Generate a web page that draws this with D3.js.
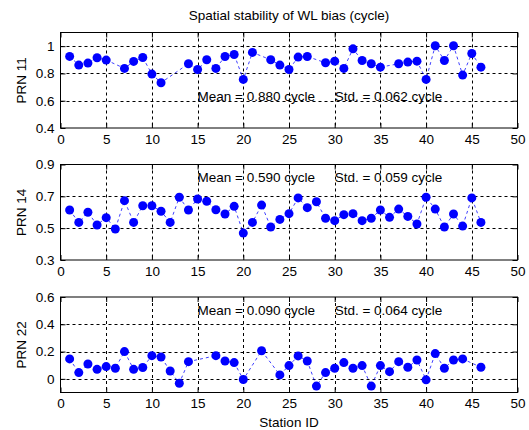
<!DOCTYPE html>
<html>
<head>
<meta charset="utf-8">
<script src="https://cdn.jsdelivr.net/npm/d3@7"></script>
<style>
  body { margin: 0; background: #fff; }
  svg text { font-family: "Liberation Sans", Arial, Helvetica, sans-serif; font-size: 13.5px; fill: #000; }
</style>
</head>
<body>
<div id="chart"></div>
<script>
// station ids and WL bias (cycle) per satellite
const stationsPrn11 = [1, 2, 3, 4, 5, 7, 8, 9, 10, 11, 14, 15, 16, 17, 18, 19, 20, 21, 23, 24,
  25, 26, 27, 29, 30, 31, 32, 33, 34, 35, 37, 38, 39, 40, 41, 42, 43, 44, 45, 46];
const biasPrn11 = [0.925, 0.861, 0.876, 0.915, 0.898, 0.837, 0.888, 0.917, 0.795, 0.732,
  0.871, 0.829, 0.900, 0.837, 0.924, 0.939, 0.756, 0.954, 0.900, 0.861,
  0.829, 0.920, 0.924, 0.878, 0.890, 0.837, 0.980, 0.895, 0.871, 0.846,
  0.871, 0.883, 0.890, 0.756, 1.003, 0.895, 1.003, 0.788, 0.946, 0.846];

const stationsPrn14 = d3.range(1, 47);
const biasPrn14 = [0.614, 0.536, 0.600, 0.520, 0.566, 0.495, 0.673, 0.536, 0.641, 0.641,
  0.606, 0.536, 0.694, 0.614, 0.683, 0.669, 0.616, 0.589, 0.637, 0.469,
  0.536, 0.645, 0.507, 0.555, 0.591, 0.690, 0.629, 0.666, 0.562, 0.547,
  0.585, 0.591, 0.547, 0.562, 0.614, 0.568, 0.620, 0.574, 0.526, 0.694,
  0.620, 0.507, 0.589, 0.513, 0.690, 0.536];

const stationsPrn22 = [1, 2, 3, 4, 5, 6, 7, 8, 9, 10, 11, 12, 13, 14, 17, 18, 19, 20, 22, 24,
  25, 26, 27, 28, 29, 30, 31, 32, 33, 34, 35, 36, 37, 38, 39, 40, 41, 42, 43, 44, 46];
const biasPrn22 = [0.146, 0.046, 0.109, 0.070, 0.090, 0.078, 0.200, 0.070, 0.083, 0.170,
  0.160, 0.058, -0.032, 0.126, 0.170, 0.131, 0.119, -0.005, 0.206, 0.029,
  0.097, 0.168, 0.131, -0.053, 0.046, 0.078, 0.119, 0.078, 0.097, -0.053,
  0.097, 0.053, 0.126, 0.085, 0.138, -0.007, 0.185, 0.078, 0.138, 0.146, 0.085];

const panelLabels = ["PRN 11", "PRN 14", "PRN 22"];
const meanLabels = ["Mean = 0.880 cycle", "Mean = 0.590 cycle", "Mean = 0.090 cycle"];
const stdLabels = ["Std. = 0.062 cycle", "Std. = 0.059 cycle", "Std. = 0.064 cycle"];
const yDomains = [[0.4, 1.1], [0.3, 0.9], [-0.1, 0.6]];
const yTicks = [[0.4, 0.6, 0.8, 1], [0.3, 0.5, 0.7, 0.9], [0, 0.2, 0.4, 0.6]];
const textY = [0.63, 0.82, 0.5];
const xTicks = d3.range(0, 51, 5);

const panels = [
  { x: stationsPrn11, y: biasPrn11 },
  { x: stationsPrn14, y: biasPrn14 },
  { x: stationsPrn22, y: biasPrn22 }
];

const WIDTH = 529;
const HEIGHT = 430;
const left = 60.5;
const right = 517.5;
const tops = [32.5, 164.5, 297];
const plotH = 95.5;

const svg = d3.select("#chart")
  .append("svg")
  .attr("width", WIDTH)
  .attr("height", HEIGHT)
  .style("background-color", "white");

const x = d3.scaleLinear().domain([0, 50]).range([left, right]);

//title
svg.append("text")
  .attr("x", (left + right) / 2)
  .attr("y", 20)
  .attr("text-anchor", "middle")
  .text("Spatial stability of WL bias (cycle)");

panels.forEach((p, k) => {
  const top = tops[k];
  const bottom = top + plotH;
  const y = d3.scaleLinear().domain(yDomains[k]).range([bottom, top]);
  const g = svg.append("g");

  //grid
  g.selectAll(".vgrid")
    .data(xTicks.filter((t) => t > 0 && t < 50))
    .enter()
    .append("line")
    .attr("x1", (d) => Math.round(x(d)) + 0.5)
    .attr("x2", (d) => Math.round(x(d)) + 0.5)
    .attr("y1", top)
    .attr("y2", bottom)
    .attr("stroke", "#000")
    .attr("stroke-dasharray", "3,3");

  g.selectAll(".hgrid")
    .data(yTicks[k].filter((t) => t > yDomains[k][0] && t < yDomains[k][1]))
    .enter()
    .append("line")
    .attr("x1", left)
    .attr("x2", right)
    .attr("y1", (d) => Math.round(y(d)) + 0.5)
    .attr("y2", (d) => Math.round(y(d)) + 0.5)
    .attr("stroke", "#000")
    .attr("stroke-dasharray", "3,3");

  //axes with inward ticks
  g.append("g")
    .attr("transform", "translate(0," + bottom + ")")
    .call(d3.axisBottom(x).tickValues(xTicks).tickSize(-5).tickPadding(6).tickFormat(d3.format("d")));
  g.append("g")
    .attr("transform", "translate(0," + top + ")")
    .call(d3.axisTop(x).tickValues(xTicks).tickSize(-5).tickFormat(""));
  g.append("g")
    .attr("transform", "translate(" + left + ",0)")
    .call(d3.axisLeft(y).tickValues(yTicks[k]).tickSize(-5).tickPadding(6).tickFormat((d) => d3.format("")(+d.toFixed(1))));
  g.append("g")
    .attr("transform", "translate(" + right + ",0)")
    .call(d3.axisRight(y).tickValues(yTicks[k]).tickSize(-5).tickFormat(""));

  g.selectAll(".domain").remove();
  g.selectAll(".tick line").attr("stroke", "#000");
  g.selectAll(".tick text")
    .style("font-family", '"Liberation Sans", Arial, sans-serif')
    .style("font-size", "13.5px")
    .attr("fill", "#000");

  //box
  g.append("rect")
    .attr("x", left)
    .attr("y", top)
    .attr("width", right - left)
    .attr("height", plotH)
    .attr("fill", "none")
    .attr("stroke", "#000");

  //ylabel
  g.append("text")
    .attr("transform", "translate(26," + (top + plotH / 2) + ") rotate(-90)")
    .attr("text-anchor", "middle")
    .text(panelLabels[k]);

  //data line
  const pts = p.x.map((d, i) => [d, p.y[i]]);
  g.append("path")
    .datum(pts)
    .attr("d", d3.line().x((d) => x(d[0])).y((d) => y(d[1])))
    .attr("fill", "none")
    .attr("stroke", "#0000ff")
    .attr("stroke-opacity", 0.75)
    .attr("stroke-dasharray", "3,3");

  g.selectAll("circle")
    .data(pts)
    .enter()
    .append("circle")
    .attr("cx", (d) => x(d[0]))
    .attr("cy", (d) => y(d[1]))
    .attr("r", 4.5)
    .attr("fill", "#0000ff");

  //stats
  g.append("text")
    .attr("x", x(15))
    .attr("y", y(textY[k]))
    .attr("dominant-baseline", "central")
    .text(meanLabels[k]);
  g.append("text")
    .attr("x", x(30))
    .attr("y", y(textY[k]))
    .attr("dominant-baseline", "central")
    .text(stdLabels[k]);
});

//xlabel
svg.append("text")
  .attr("x", (left + right) / 2)
  .attr("y", 427)
  .attr("text-anchor", "middle")
  .text("Station ID");
</script>
</body>
</html>
